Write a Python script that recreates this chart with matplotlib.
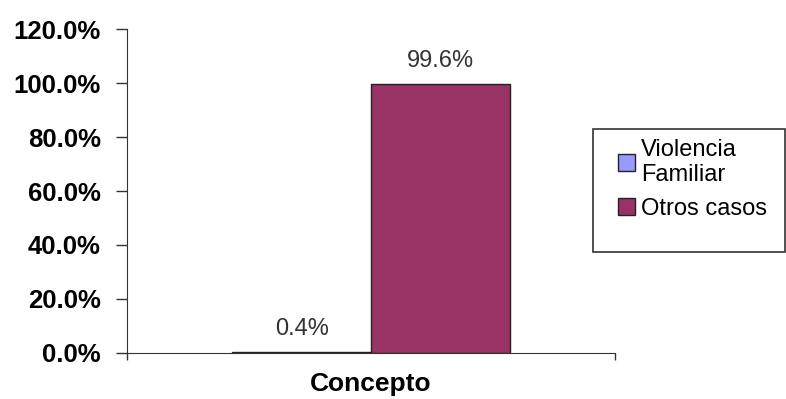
import matplotlib
matplotlib.use('Agg')
import matplotlib.pyplot as plt
from matplotlib.patches import Patch, Rectangle
from matplotlib.ticker import PercentFormatter

categories = ['Concepto']
series_names = ['Violencia\nFamiliar', 'Otros casos']
series_values = [0.004, 0.996]
value_labels = ['0.4%', '99.6%']
colors = ['#9999FF', '#993366']

plt.rcParams['font.family'] = ['Liberation Sans', 'DejaVu Sans']

fig = plt.figure(figsize=(7.86, 3.99), dpi=100)
ax = fig.add_axes([0.1616, 0.1153, 0.6208, 0.8120])

width = 0.284
offsets = [-width / 2, width / 2]
for i in range(len(series_values)):
    ax.bar(offsets[i], series_values[i], width, color=colors[i],
           edgecolor='#222222', linewidth=1.0)
    ax.text(offsets[i], series_values[i] + 0.045, value_labels[i],
            ha='center', va='bottom', fontsize=17, color='#333333')

ax.set_xlim(-0.5, 0.5)
ax.set_ylim(0, 1.2)
ax.set_yticks([0, 0.2, 0.4, 0.6, 0.8, 1.0, 1.2])
ax.yaxis.set_major_formatter(PercentFormatter(1.0, decimals=1))
for lbl in ax.get_yticklabels():
    lbl.set_fontweight('bold')
    lbl.set_fontsize(18.5)
ax.set_xticks([-0.5, 0.5])
ax.set_xticklabels(['', ''])
ax.tick_params(axis='y', length=8, width=1, pad=11, color='#333333')
ax.tick_params(axis='x', length=5, width=1, color='#333333')
ax.set_xlabel(categories[0], fontsize=19, fontweight='bold', labelpad=5)

ax.spines['top'].set_visible(False)
ax.spines['right'].set_visible(False)
ax.spines['left'].set_color('#333333')
ax.spines['bottom'].set_color('#333333')

# legend box
box = Rectangle((593 / 786, 1 - 252 / 399), 192 / 786, 123 / 399,
                transform=fig.transFigure, facecolor='white',
                edgecolor='#333333', linewidth=1.2)
fig.patches.append(box)
handles = [Patch(facecolor=c, edgecolor='#222222', linewidth=1.0) for c in colors]
fig.legend(handles, series_names, loc='upper left',
           bbox_to_anchor=(613 / 786, 1 - 134 / 399), frameon=False,
           fontsize=17, handlelength=0.75, handleheight=0.75,
           handletextpad=0.25, labelspacing=0.5, borderpad=0.2,
           borderaxespad=0)

fig.savefig('out.png', dpi=100)
